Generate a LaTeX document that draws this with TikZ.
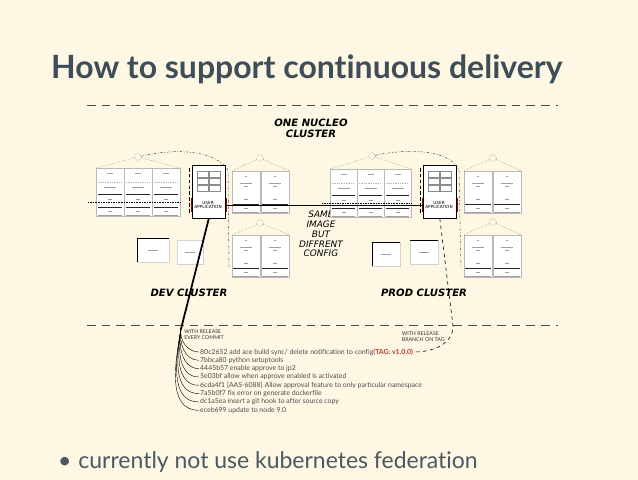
\documentclass[tikz,border=0pt]{standalone}
\usepackage{fontspec}
\setmainfont{Lato}[Ligatures=NoCommon]
\newfontfamily\sketchfont{DejaVu Sans}
\usetikzlibrary{positioning,calc}
\definecolor{slidebg}{HTML}{FDF7E3}
\definecolor{titlecol}{HTML}{3D4E59}
\definecolor{bodycol}{HTML}{4A5963}
\definecolor{tagred}{HTML}{C0392B}
\tikzset{
  col/.style={draw=gray!55, fill=white, line width=0.3pt, anchor=north west, inner sep=0pt},
  appbox/.style={draw=black, fill=white, line width=0.5pt, anchor=north west, inner sep=0pt, minimum width=0.99cm, minimum height=1.59cm},
  smallbox/.style={draw=gray!35, fill=white, line width=0.3pt, anchor=north west, inner sep=0pt, minimum height=0.72cm},
  cell/.style={draw=black!45, line width=0.2pt},
  darkrule/.style={draw=black!85, line width=0.7pt},
  greyrule/.style={draw=gray!60, line width=0.3pt, dashed, dash pattern=on 1pt off 1pt},
  scrib/.style={draw=gray!75, line width=0.6pt},
  sketch/.style={font=\sketchfont\bfseries\itshape\fontsize{8.6}{9.6}\selectfont, align=center, inner sep=0pt},
  applabel/.style={font=\sketchfont\fontsize{3.6}{4}\selectfont, align=center, inner sep=0pt},
  commit/.style={font=\fontsize{5.9}{6.5}\selectfont, text=black!70, anchor=west, inner sep=0pt},
  note/.style={font=\fontsize{4.5}{5}\selectfont, text=black!80, align=left, inner sep=0pt},
  icon/.style={circle, draw=black!70, densely dotted, line width=0.3pt, minimum size=0.2cm, inner sep=0pt},
  fan/.style={densely dotted, draw=black!70, line width=0.3pt},
  arc/.style={dash pattern=on 2pt off 1.5pt on 0.5pt off 1.5pt, draw=black!75, line width=0.4pt},
  sep/.style={dash pattern=on 7.5pt off 5pt, draw=black!70, line width=0.5pt},
  redtick/.style={draw=red!60!black, line width=0.4pt}
}
\begin{document}
\begin{tikzpicture}[x=0.03cm, y=-0.03cm]
  \fill[slidebg] (0,0) rectangle (638,480);
  \useasboundingbox (0,0) rectangle (638,480);

  % slide text
  \node[anchor=west, inner sep=0pt, text=titlecol, font=\bfseries\fontsize{27.3}{30}\selectfont] (title) at (51,69) {How to support continuous delivery};
  \node[anchor=west, inner sep=0pt, text=bodycol, font=\fontsize{19.6}{22}\selectfont] (bullet) at (58,462) {\textbullet\hspace{0.3em}currently not use kubernetes federation};

  % separators
  \draw[sep] (87,105) -- (558,105);
  \draw[sep] (87,325) -- (558,325);

  \node[sketch] (nucleo) at (311,128) {ONE NUCLEO\\CLUSTER};
  \node[sketch] (devname) at (189,293) {DEV CLUSTER};
  \node[sketch] (prodname) at (424,293) {PROD CLUSTER};
  \node[sketch, font=\sketchfont\itshape\fontsize{7.6}{8.4}\selectfont] (same) at (321,234) {SAME\\IMAGE\\BUT\\DIFFRENT\\CONFIG};

  % three column groups
  \foreach \x/\y/\w/\nm in {96/168/28/dva, 330/169/27/pda} {
    \foreach \i in {0,1,2} {
      \node[col, minimum width=\w*0.03cm, minimum height=1.44cm] (\nm\i) at (\x+\i*\w,\y) {};
      \draw[scrib] (\x+\i*\w+11,\y+5) -- ++(6,0);
      \draw[greyrule] (\x+\i*\w+2,\y+14) -- ++(\w-4,0);
      \draw[scrib] (\x+\i*\w+8,\y+19) -- ++(12,0);
      \draw[darkrule] (\x+\i*\w+2,\y+26) -- ++(\w-4,0);
      \draw[scrib] (\x+\i*\w+12,\y+31) -- ++(4,0);
      \draw[darkrule] (\x+\i*\w+2,\y+39) -- ++(\w-4,0);
      \draw[scrib] (\x+\i*\w+12,\y+43) -- ++(4,0);
      \draw[scrib, line width=0.4pt] (\x+\i*\w+2,\y+47) -- ++(\w-4,0);
    }
    \draw[densely dotted, line width=0.4pt] (\x-8,\y+34) -- (\x+3*\w,\y+34);
  }

  % two column groups
  \foreach \x/\y/\nm in {232/171/dvb, 232/235/dvc, 464/171/pdb, 464/235/pdc} {
    \foreach \i in {0,1} {
      \node[col, minimum width=0.84cm, minimum height=1.26cm] (\nm\i) at (\x+\i*29,\y) {};
      \draw[scrib] (\x+\i*29+13,\y+5) -- ++(2,0);
      \draw[scrib] (\x+\i*29+8,\y+12) -- ++(12,0);
      \draw[scrib] (\x+\i*29+12,\y+15) -- ++(4,0);
      \draw[scrib] (\x+\i*29+12,\y+28) -- ++(4,0);
      \draw[darkrule] (\x+\i*29+1,\y+33) -- ++(26,0);
      \draw[scrib] (\x+\i*29+12,\y+37) -- ++(4,0);
      \draw[scrib, line width=0.4pt] (\x+\i*29+1,\y+41) -- ++(26,0);
    }
  }

  % user application boxes
  \foreach \x/\nm in {192/devapp, 423/prodapp} {
    \node[appbox] (\nm) at (\x,165) {};
    \foreach \r in {0,1,2}
      \foreach \c in {0,1}
        \draw[cell] (\x+5+\c*12,171+\r*7) rectangle ++(11,6);
    \node[applabel] (\nm lbl) at (\x+16,205) {USER\\APPLICATION};
    \draw[redtick] (\x-1,198) -- (\x-1,212);
    \draw[redtick] (\x+34,198) -- (\x+34,212);
  }

  % small boxes
  \node[smallbox, minimum width=0.96cm] (dvs1) at (137,238) {};
  \node[smallbox, minimum width=0.78cm] (dvs2) at (177,240) {};
  \node[smallbox, minimum width=0.84cm] (pds1) at (372,242) {};
  \node[smallbox, minimum width=0.84cm] (pds2) at (410,240) {};
  \draw[line width=0.6pt] (dvs1.south west) -- (dvs1.north west) -- (dvs1.north east);
  \draw[line width=0.6pt] (pds1.south west) -- (pds1.north west) -- (pds1.north east);
  \draw[line width=0.6pt] (pds2.north west) -- (pds2.north east);
  \foreach \nm in {dvs1, dvs2, pds1, pds2}
    \draw[scrib, line width=0.4pt] ([xshift=-4pt]\nm.center) -- ([xshift=4pt]\nm.center);

  % icons over groups
  \node[icon] (dvi1) at (138,157) {};
  \node[icon] (dvi2) at (260,158) {};
  \node[icon] (dvi3) at (260,223) {};
  \node[icon] (pdi1) at (372,156) {};
  \node[icon] (pdi2) at (493,158) {};
  \node[icon] (pdi3) at (493,222) {};
  \draw[fan] (dvi1) -- (dva0.north west);
  \draw[fan] (dvi1) -- (dva2.north east);
  \draw[fan] (dvi2) -- (dvb0.north west);
  \draw[fan] (dvi2) -- (dvb1.north east);
  \draw[fan] (dvi3) -- (dvc0.north west);
  \draw[fan] (dvi3) -- (dvc1.north east);
  \draw[fan] (pdi1) -- (pda0.north west);
  \draw[fan] (pdi1) -- (pda2.north east);
  \draw[fan] (pdi2) -- (pdb0.north west);
  \draw[fan] (pdi2) -- (pdb1.north east);
  \draw[fan] (pdi3) -- (pdc0.north west);
  \draw[fan] (pdi3) -- (pdc1.north east);

  % dotted arcs round the apps
  \coordinate (dvturn) at (228,170);
  \coordinate (pdturn) at (459,170);
  \draw[arc] (dvi1) .. controls (175,148) and (215,150) .. (dvturn) -- (229,268);
  \draw[arc] (pdi1) .. controls (410,148) and (450,150) .. (pdturn) -- (461,268);
  \draw[densely dashed, line width=0.3pt] (189,168) -- (189,214);
  \draw[densely dashed, line width=0.3pt] (420,168) -- (420,214);

  % same image link
  \draw[line width=0.6pt] (devapp.east |- 0,205) -- (prodapp.west |- 0,205);

  % commit history
  \node[note] (everycommit) at (204,335) {WITH RELEASE\\EVERY COMMIT};
  \node[note, anchor=east] (branchtag) at (445,337) {WITH RELEASE\\BRANCH ON TAG};
  \node[commit] (c1) at (200,352) {80c2652 add ace build sync/ delete notification to config\textcolor{tagred}{\bfseries(TAG: v1.0.0)}};
  \node[commit] (c2) at (200,360.3) {7bbca80 python setuptools};
  \node[commit] (c3) at (200,368.6) {4445b57 enable approve to jp2};
  \node[commit] (c4) at (200,377) {5e03bf allow when approve enabled is activated};
  \node[commit] (c5) at (200,385.3) {6cda4f1 [AAS-6088] Allow approval feature to only particular namespace};
  \node[commit] (c6) at (200,393.6) {7a5b0f7 fix error on generate dockerfile};
  \node[commit] (c7) at (200,402) {dc1a5ea insert a git hook to after source copy};
  \node[commit] (c8) at (200,410.3) {eceb699 update to node 9.0};

  \coordinate (fork) at (181,329);
  \draw[line width=1.5pt] (devapp.south) -- (fork);
  \foreach \k in {1,...,8}
    \draw[line width=0.35pt] (fork) to[out=-100, in=180] ([xshift=-1pt]c\k.west);
  \coordinate (tagturn) at (453,326);
  \draw[dashed, line width=0.5pt] (prodapp.south) -- (tagturn) to[out=-90, in=0] ([xshift=1pt]c1.east);
\end{tikzpicture}
\end{document}
